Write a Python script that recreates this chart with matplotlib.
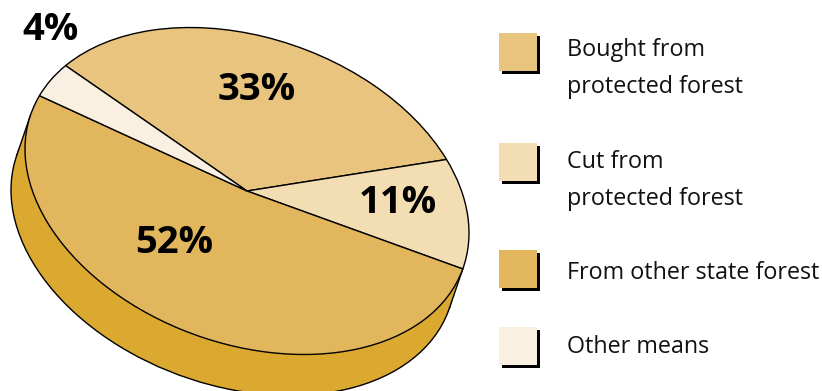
import numpy as np
import matplotlib
matplotlib.use("Agg")
import matplotlib.pyplot as plt
from matplotlib.patches import Ellipse, Polygon, Rectangle
from matplotlib.transforms import Affine2D

shares = [33, 11, 52, 4]
categories = ["Bought from\nprotected forest", "Cut from\nprotected forest",
              "From other state forest", "Other means"]
pct_labels = [f"{v}%" for v in shares]
colors = ["#E8C47E", "#F3DDB3", "#E1B65C", "#FAF0E1"]
SIDE = "#DBA830"

plt.rcParams["font.family"] = ["Open Sans", "DejaVu Sans"]

fig = plt.figure(figsize=(8.22, 3.91), dpi=100)
# axes in pixel units, y pointing down
ax = fig.add_axes([0, 0, 1, 1])
ax.set_xlim(0, 822); ax.set_ylim(391, 0); ax.axis("off")

# unit circle -> tilted ellipse
CX, CY = 247, 191
tilt = Affine2D(np.array([[222.0, 0, CX], [41.98, -158.0, CY], [0, 0, 1]]))
SHIFT = (-14, 41)
tilt_low = tilt + Affine2D().translate(*SHIFT)

# side of the disc: lower ellipse plus the band joining it to the top face
low = Ellipse((0, 0), 2, 2, fc=SIDE, ec="black", lw=1, transform=tilt_low + ax.transData, zorder=1)
ax.add_patch(low)
m = np.linalg.inv(tilt.get_matrix()[:2, :2]) @ np.array(SHIFT, float)
n = np.array([-m[1], m[0]]) / np.hypot(*m)
a, b = tilt.transform(n), tilt.transform(-n)
a2, b2 = tilt_low.transform(n), tilt_low.transform(-n)
ax.add_patch(Polygon([a, b, b2, a2], fc=SIDE, ec="none", zorder=1.5))
ax.plot([a[0], a2[0]], [a[1], a2[1]], c="black", lw=1, zorder=1.6)
ax.plot([b[0], b2[0]], [b[1], b2[1]], c="black", lw=1, zorder=1.6)

# top face: a real pie pushed through the tilt
wedges, _ = ax.pie(shares, colors=colors, startangle=144.8, counterclock=False, radius=1,
                   wedgeprops=dict(edgecolor="black", linewidth=1, zorder=2))
for w in wedges:
    w.set_transform(tilt + ax.transData)
ax.set_aspect("auto")
ax.set_xlim(0, 822); ax.set_ylim(391, 0)
ax.axis("off")

label_xy = [(257, 100), (398, 213), (174, 253), (50, 40)]
for txt, (x, y) in zip(pct_labels, label_xy):
    ax.text(x, y, txt, ha="center", va="baseline", fontsize=27.5, fontweight="bold", color="black", zorder=5)

# legend with hard black drop shadows
box_tops = [33, 143, 250, 327]
text_base = [56, 168, 279, 353]
for top, base, c, name in zip(box_tops, text_base, colors, categories):
    ax.add_patch(Rectangle((501.5, top + 2.5), 38, 38, fc="black", ec="none", zorder=3))
    ax.add_patch(Rectangle((499, top), 38, 38, fc=c, ec="none", zorder=4))
    for i, line in enumerate(name.split("\n")):
        ax.text(567, base + i * 37, line, ha="left", va="baseline", fontsize=16.8, color="#111111", zorder=5)

fig.savefig("out.png", dpi=100)
